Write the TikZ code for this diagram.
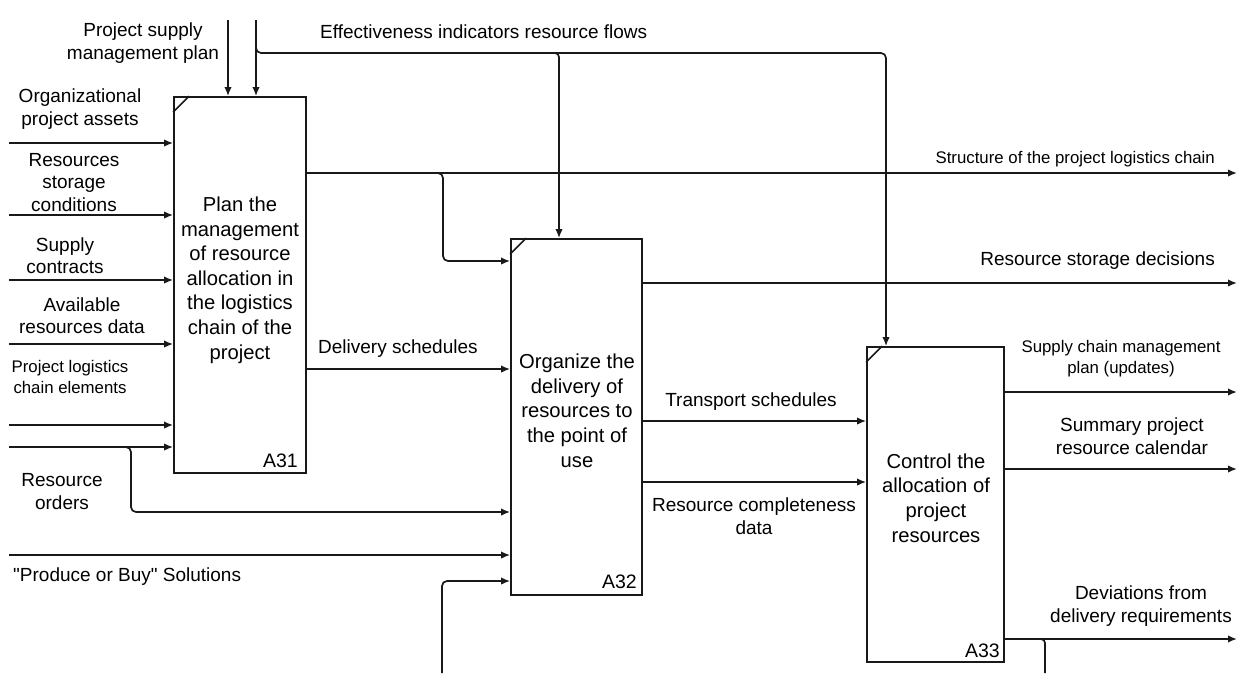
\documentclass[tikz,border=0pt]{standalone}
\usepackage{fontspec}
\setmainfont{Liberation Sans}
\usetikzlibrary{arrows.meta}
\begin{document}
\begin{tikzpicture}[x=1pt,y=-1pt,
  flow/.style={line width=1.7pt, draw=black!90, -{Latex[length=9pt,width=7.5pt]}},
  link/.style={line width=1.7pt, draw=black!90},
  fnbox/.style={draw=black!90, line width=1.8pt, inner sep=0pt, fill=white},
  lbl/.style={font=\fontsize{19}{22.5}\selectfont, align=center, inner sep=0pt, text=black},
  small/.style={font=\fontsize{16.8}{21}\selectfont, align=center, inner sep=0pt, text=black},
  btxt/.style={font=\fontsize{20.2}{24.6}\selectfont, align=center, inner sep=0pt, text=black},
  boxid/.style={font=\fontsize{19.5}{22}\selectfont, inner sep=0pt, anchor=base east, text=black}]
\useasboundingbox[fill=white] (0,0) rectangle (1237,673);

% ---- activity boxes ----
\node[fnbox, minimum width=132pt, minimum height=376pt] (A31) at (240,285) {};
\node[fnbox, minimum width=131pt, minimum height=356pt] (A32) at (576.5,417) {};
\node[fnbox, minimum width=137pt, minimum height=315pt] (A33) at (935.5,504.5) {};
\foreach \b in {A31,A32,A33}
  \draw[link, line width=1.6pt] ([yshift=-16pt]\b.north west) -- ([xshift=16pt]\b.north west);

% ---- box texts (anchored at the baseline of their last line) ----
\node[btxt, anchor=base] (t31) at (240,359) {Plan the\\management\\of resource\\allocation in\\the logistics\\chain of the\\project};
\node[btxt, anchor=base] (t32) at (577,467) {Organize the\\delivery of\\resources to\\the point of\\use};
\node[btxt, anchor=base] (t33) at (936,542) {Control the\\allocation of\\project\\resources};
\node[boxid] (id31) at (298,467) {A31};
\node[boxid] (id32) at (637,588) {A32};
\node[boxid] (id33) at (1000,657) {A33};

% ---- free ends and levels ----
\coordinate (c1) at (228,20);
\coordinate (c2) at (256,20);
\coordinate (eff) at (256,53);
\coordinate (effM) at (559,53);
\coordinate (effR) at (886,53);
\coordinate (stR) at (1237,173);
\coordinate (stB) at (443,173);
\coordinate (stB2) at (443,261);
\coordinate (rsR) at (1237,283);
\coordinate (dl) at (0,369);
\coordinate (tr) at (0,421);
\coordinate (rc) at (0,482);
\coordinate (o1) at (1237,392);
\coordinate (o2) at (1237,469);
\coordinate (o3) at (1237,639);
\coordinate (o3b) at (1045,639);
\coordinate (o3d) at (1045,673);
\coordinate (i1) at (9,143);
\coordinate (i2) at (9,215);
\coordinate (i3) at (9,280);
\coordinate (i4) at (9,344);
\coordinate (i5) at (9,425);
\coordinate (i6) at (9,447);
\coordinate (ob) at (131,447);
\coordinate (ob2) at (131,512);
\coordinate (i7) at (9,555);
\coordinate (fb) at (442,673);
\coordinate (fb2) at (442,581);

% ---- controls ----
\draw[flow] (c1) -- (A31.north -| c1);
\draw[flow] (c2) -- (A31.north -| c2);
\draw[flow, rounded corners=5pt] ([yshift=5pt]eff) -- (eff) -- (effR) -- (A33.north -| effR);
\draw[flow, rounded corners=4pt] ([xshift=-5pt]effM) -- (effM) -- (A32.north -| effM);

% ---- inputs of A31 ----
\foreach \i in {i1,i2,i3,i4,i5,i6}
  \draw[flow] (\i) -- (A31.west |- \i);

% ---- inputs of A32 ----
\draw[flow, rounded corners=5pt] ([xshift=-5pt]ob) -- (ob) -- (ob2) -- (A32.west |- ob2);
\draw[flow] (i7) -- (A32.west |- i7);
\draw[flow, rounded corners=5pt] (fb) -- (fb2) -- (A32.west |- fb2);

% ---- outputs of A31 ----
\draw[flow] (A31.east |- stR) -- (stR);
\draw[flow, rounded corners=5pt] ([xshift=-5pt]stB) -- (stB) -- (stB2) -- (A32.west |- stB2);
\draw[flow] (A31.east |- dl) -- (A32.west |- dl);

% ---- outputs of A32 ----
\draw[flow] (A32.east |- rsR) -- (rsR);
\draw[flow] (A32.east |- tr) -- (A33.west |- tr);
\draw[flow] (A32.east |- rc) -- (A33.west |- rc);

% ---- outputs of A33 ----
\draw[flow] (A33.east |- o1) -- (o1);
\draw[flow] (A33.east |- o2) -- (o2);
\draw[flow] (A33.east |- o3) -- (o3);
\draw[link, rounded corners=4pt] ([xshift=-5pt]o3b) -- (o3b) -- (o3d);

% ---- arrow labels (multi-line ones anchored at their last baseline) ----
\node[lbl, anchor=base] (lpsm) at (143,59) {Project supply\\management plan};
\node[lbl, anchor=base west] (leff) at (320,38) {Effectiveness indicators resource flows};
\node[lbl, anchor=base] (lopa) at (80,125) {Organizational\\project assets};
\node[lbl, anchor=base] (lrsc) at (74,211) {Resources\\storage\\conditions};
\node[lbl, anchor=base] (lsc) at (65,273.5) {Supply\\contracts};
\node[lbl, anchor=base] (lard) at (82,333.5) {Available\\resources data};
\node[small, anchor=base] (lplc) at (70,393) {Project logistics\\chain elements};
\node[lbl, anchor=base] (lro) at (62,509) {Resource\\orders};
\node[lbl, anchor=base west] (lpb) at (13,581) {\textquotedbl Produce or Buy\textquotedbl\ Solutions};
\node[lbl, anchor=base west] (lds) at (318,353) {Delivery schedules};
\node[lbl, anchor=base] (lts) at (751,406) {Transport schedules};
\node[lbl, anchor=base] (lrcd) at (754,534) {Resource completeness\\data};
\node[small, anchor=base east] (lstr) at (1215,163) {Structure of the project logistics chain};
\node[lbl, anchor=base east] (lrsd) at (1215,265) {Resource storage decisions};
\node[small, anchor=base] (lscm) at (1121,373) {Supply chain management\\plan (updates)};
\node[lbl, anchor=base] (lspr) at (1132,454) {Summary project\\resource calendar};
\node[lbl, anchor=base] (ldev) at (1141,622) {Deviations from\\delivery requirements};
\end{tikzpicture}
\end{document}
